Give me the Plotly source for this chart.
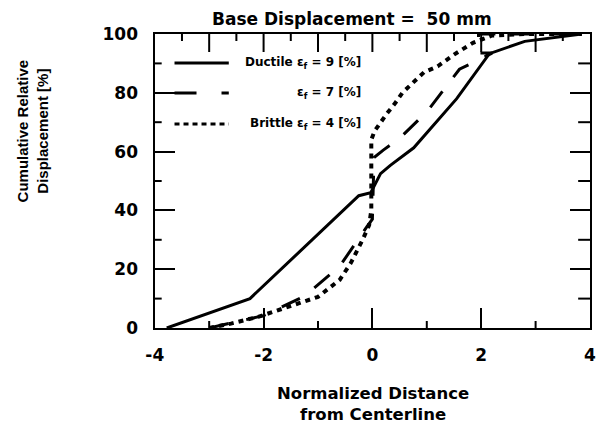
import plotly.graph_objects as go

# ---- data ----
x_ductile = [-3.78, -2.25, -0.25, -0.03, 0.15, 0.33, 0.76, 1.55, 2.15, 2.8, 3.85]
y_ductile = [0, 10, 45, 46, 52.5, 55.3, 61.3, 78, 93.3, 97.5, 100]

x_mid = [-3.0, -2.0, -1.25, -0.6, -0.1, 0.0, 0.03, 0.2, 0.5, 1.0, 1.6, 2.2, 1.95, 1.95, 3.0, 3.85]
y_mid = [0, 4.2, 10.8, 21, 34.5, 37, 58, 60.5, 64.5, 73.5, 88, 93.5, 93.5, 100, 100, 100]

x_brittle = [-3.0, -2.6, -2.1, -1.4, -1.0, -0.6, -0.4, -0.18, -0.06, -0.02, -0.02,
             0.04, 0.15, 0.27, 0.42, 0.55, 0.95, 1.2, 1.5, 1.85, 2.2, 2.8, 3.85]
y_brittle = [0, 1.5, 3.8, 8, 10.6, 16.4, 22, 30, 35, 40, 64,
             67, 70, 73, 76.5, 80, 87, 89, 93, 97, 99.5, 100, 100]

x_tickvals = [-4, -2, 0, 2, 4]
x_ticktext = ["-4", "-2", "0", "2", "4"]
y_tickvals = [0, 20, 40, 60, 80, 100]

# tick-mark positions (axis values)
x_bottom_minor = [-3, -1, 1, 3]
x_top_major = [-3, -2, -1, 0, 1, 2, 3]
x_top_minor = [-3.5, -2.5, -1.5, -0.5, 0.5, 1.5, 2.5, 3.5]
y_minor = [10, 30, 50, 70, 90]

legend_labels = ["Ductile \u03b5<sub>f</sub> = 9 [%]", "\u03b5<sub>f</sub> = 7 [%]",
                 "Brittle \u03b5<sub>f</sub> = 4 [%]"]
title_text = "Base Displacement =  50 mm"
x_title = "Normalized Distance<br>from Centerline"
y_title = "Cumulative Relative<br>Displacement [%]"

# ---- geometry (pixels) ----
W, H = 598, 427
PL, PR, PT, PB = 138, 2, 34, 84          # paper margins
AX_L, AX_B = 155, 328                    # plot-area left / bottom edge
PWp, PHp = W - PL - PR, H - PT - PB      # paper size
dom_x0 = (AX_L - PL) / PWp
dom_y0 = (H - PB - AX_B) / PHp
plotW = W - PR - AX_L
plotH = AX_B - PT

def px_x(px):
    return (px - PL) / PWp

def px_y(py):
    return (H - PB - py) / PHp

fig = go.Figure()
fig.add_trace(go.Scatter(x=x_ductile, y=y_ductile, mode="lines",
                         line=dict(color="black", width=3), showlegend=False))
fig.add_trace(go.Scatter(x=x_mid, y=y_mid, mode="lines",
                         line=dict(color="black", width=3, dash="20px,18px"), showlegend=False))
fig.add_trace(go.Scatter(x=x_brittle, y=y_brittle, mode="lines",
                         line=dict(color="black", width=4, dash="5px,5px"), showlegend=False))
# empty trace so the label-only axes are drawn
fig.add_trace(go.Scatter(x=[None], y=[None], xaxis="x2", yaxis="y2", mode="lines",
                         showlegend=False, hoverinfo="skip"))

tickfont = dict(family="DejaVu Sans", size=17, color="black", weight="bold")

fig.update_layout(
    width=W, height=H, autosize=False,
    margin=dict(l=PL, r=PR, t=PT, b=PB, pad=0),
    paper_bgcolor="white", plot_bgcolor="white",
    xaxis=dict(domain=[dom_x0, 1], range=[-4, 4], tickmode="array", tickvals=x_tickvals,
               ticks="inside", ticklen=20, tickwidth=2, tickcolor="black", showticklabels=False,
               showline=True, linewidth=2, linecolor="black", mirror=True,
               showgrid=False, zeroline=False),
    yaxis=dict(domain=[dom_y0, 1], range=[0, 100], tickmode="array", tickvals=y_tickvals,
               ticks="inside", ticklen=20, tickwidth=2, tickcolor="black", showticklabels=False,
               showline=True, linewidth=2, linecolor="black", mirror="allticks",
               showgrid=False, zeroline=False),
    # label-only axes placed at the paper edges
    xaxis2=dict(overlaying="x", anchor="free", position=0, side="bottom", range=[-4, 4],
                tickmode="array", tickvals=x_tickvals, ticktext=x_ticktext, ticks="",
                showline=False, showgrid=False, zeroline=False, tickfont=tickfont,
                ticklabeloverflow="allow"),
    yaxis2=dict(overlaying="y", anchor="free", position=0, side="left", range=[0, 100],
                tickmode="array", tickvals=y_tickvals, ticks="",
                showline=False, showgrid=False, zeroline=False, tickfont=tickfont),
    showlegend=False,
)

# additional inward tick marks
tick_line = dict(color="black", width=2)
for v in x_bottom_minor:
    fig.add_shape(type="line", xref="x", yref="y domain", x0=v, x1=v, y0=0, y1=7 / plotH, line=tick_line)
for v in x_top_major:
    fig.add_shape(type="line", xref="x", yref="y domain", x0=v, x1=v, y0=1, y1=1 - 18 / plotH, line=tick_line)
for v in x_top_minor:
    fig.add_shape(type="line", xref="x", yref="y domain", x0=v, x1=v, y0=1, y1=1 - 7 / plotH, line=tick_line)
for v in y_minor:
    fig.add_shape(type="line", xref="x domain", yref="y", x0=0, x1=7 / plotW, y0=v, y1=v, line=tick_line)
    fig.add_shape(type="line", xref="x domain", yref="y", x0=1, x1=1 - 12 / plotW, y0=v, y1=v, line=tick_line)

# title
fig.add_annotation(text=title_text, xref="paper", yref="paper", x=px_x(355), y=px_y(19),
                   xanchor="center", yanchor="middle", showarrow=False,
                   font=dict(family="DejaVu Sans", size=17, color="black", weight="bold"))
# x title
fig.add_annotation(text=x_title, xref="paper", yref="paper", x=px_x(376), y=px_y(404),
                   xanchor="center", yanchor="middle", showarrow=False,
                   font=dict(family="DejaVu Sans", size=16.5, color="black", weight="bold"))
# y title
fig.add_annotation(text=y_title, xref="paper", yref="paper", x=px_x(31), y=px_y(131),
                   xanchor="center", yanchor="middle", showarrow=False, textangle=-90,
                   font=dict(family="Liberation Sans", size=15, color="black", weight="bold"))

# legend (manual)
leg_y = [63, 93, 124]
leg_dash = ["solid", "22px,25px,8px,40px", "5px,4px"]
for lab, ly, dsh in zip(legend_labels, leg_y, leg_dash):
    fig.add_shape(type="line", xref="paper", yref="paper",
                  x0=px_x(175), x1=px_x(230), y0=px_y(ly), y1=px_y(ly),
                  line=dict(color="black", width=3, dash=dsh))
    fig.add_annotation(text=lab, xref="paper", yref="paper", x=px_x(366), y=px_y(ly),
                       xanchor="right", yanchor="middle", showarrow=False,
                       font=dict(family="DejaVu Sans", size=12, color="black", weight="bold"))

fig.write_html("out.html", config={"displayModeBar": False, "responsive": False},
               post_script="document.body.style.margin='0';")
